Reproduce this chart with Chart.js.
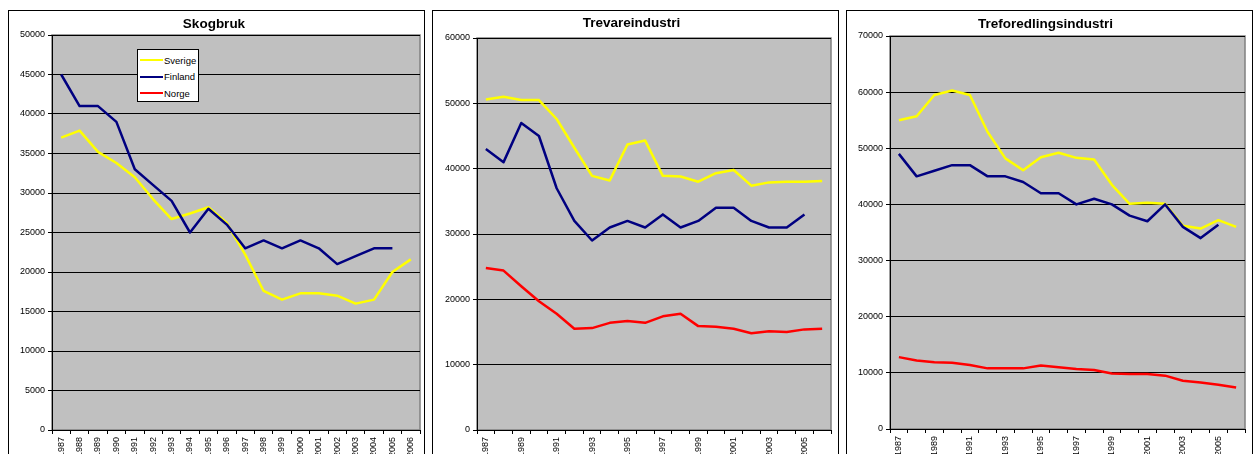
<!DOCTYPE html>
<html>
<head>
<meta charset="utf-8">
<script src="https://cdn.jsdelivr.net/npm/chart.js@4.4.1/dist/chart.umd.min.js"></script>
<style>
  html, body { margin: 0; padding: 0; background: #fff; overflow: hidden; width: 1253px; height: 454px; }
  canvas { position: absolute; }
  .frame { position: absolute; border: 1.5px solid #000; box-sizing: border-box; pointer-events: none; }
  .legend { position: absolute; background: #fff; border: 1px solid #000; box-sizing: border-box;
            font-family: 'Liberation Sans', Arial, sans-serif; font-size: 9.5px; color: #000; padding-top: 2px; }
  .legend .row { height: 16.5px; display: flex; align-items: center; }
  .legend .swatch { width: 23px; margin-left: 2px; margin-right: 1px; }
</style>
</head>
<body>

<canvas id="skogbruk" width="417" height="470" style="left:8px; top:10px;"></canvas>
<canvas id="trevare" width="406" height="470" style="left:432px; top:10px;"></canvas>
<canvas id="treforedling" width="407" height="470" style="left:846px; top:10px;"></canvas>

<div class="frame" style="left:8px; top:10px; width:417px; height:470px;"></div>
<div class="frame" style="left:432px; top:10px; width:407px; height:470px;"></div>
<div class="frame" style="left:846px; top:10px; width:407px; height:470px;"></div>

<div class="legend" id="legend" style="left:137px; top:49px; width:62px; height:53px;"></div>

<script>
// Years on the x axis
const years = ['1987', '1988', '1989', '1990', '1991', '1992', '1993', '1994', '1995', '1996',
               '1997', '1998', '1999', '2000', '2001', '2002', '2003', '2004', '2005', '2006'];

// Skogbruk
const skogSverige = [37000, 37900, 35200, 33800, 32000, 29200, 26700, 27400, 28200, 26200,
                     22200, 17600, 16500, 17300, 17300, 17000, 16000, 16500, 20000, 21600];
const skogFinland = [45000, 41000, 41000, 39000, 33000, 31000, 29000, 25000, 28000, 26000,
                     23000, 24000, 23000, 24000, 23000, 21000, 22000, 23000, 23000, null];
const skogNorge = [];

// Trevareindustri
const trevSverige = [50600, 51000, 50500, 50500, 47600, 43200, 38900, 38200, 43700, 44300,
                     38900, 38800, 38000, 39300, 39800, 37400, 37900, 38000, 38000, 38100];
const trevFinland = [43000, 41000, 47000, 45000, 37000, 32000, 29000, 31000, 32000, 31000,
                     33000, 31000, 32000, 34000, 34000, 32000, 31000, 31000, 33000, null];
const trevNorge = [24800, 24400, 22000, 19700, 17800, 15500, 15600, 16400, 16700, 16400,
                   17400, 17800, 15900, 15800, 15500, 14800, 15100, 15000, 15400, 15500];

// Treforedlingsindustri
const tforSverige = [55000, 55700, 59500, 60300, 59500, 52900, 48200, 46100, 48400, 49200,
                     48300, 48000, 43500, 40100, 40300, 40100, 36200, 35700, 37200, 36000];
const tforFinland = [49000, 45000, 46000, 47000, 47000, 45000, 45000, 44000, 42000, 42000,
                     40000, 41000, 40000, 38000, 37000, 40000, 36000, 34000, 36400, null];
const tforNorge = [12800, 12200, 11900, 11800, 11400, 10800, 10800, 10800, 11300, 11000,
                   10700, 10500, 9900, 9800, 9800, 9500, 8600, 8300, 7900, 7400];

const COLORS = { Sverige: '#FFFF00', Finland: '#000080', Norge: '#FF0000' };

Chart.defaults.font.family = "'Liberation Sans', Arial, sans-serif";
Chart.defaults.font.size = 9;
Chart.defaults.color = '#000';

// Gray plot area like the old spreadsheet charts
const plotBackground = {
    id: 'plotBackground',
    beforeDraw(chart) {
        const { ctx, chartArea: a } = chart;
        ctx.save();
        ctx.fillStyle = '#C0C0C0';
        ctx.fillRect(a.left, a.top, a.right - a.left, a.bottom - a.top);
        ctx.strokeStyle = '#808080';
        ctx.lineWidth = 1.5;
        ctx.strokeRect(a.left, a.top, a.right - a.left, a.bottom - a.top);
        ctx.restore();
    }
};

function makeDatasets(sverige, finland, norge, norgeWidth) {
    return [
        { label: 'Sverige', data: sverige, borderColor: COLORS.Sverige, borderWidth: 2.5, order: 3 },
        { label: 'Finland', data: finland, borderColor: COLORS.Finland, borderWidth: 2.5, order: 2 },
        { label: 'Norge', data: norge, borderColor: COLORS.Norge, borderWidth: norgeWidth || 2.5, order: 1 }
    ];
}

function buildChart(id, title, datasets, cfg) {
    const canvas = document.getElementById(id);
    return new Chart(canvas, {
        type: 'line',
        data: { labels: years, datasets: datasets },
        options: {
            responsive: false,
            animation: false,
            events: [],
            layout: { padding: { left: 0, right: cfg.padRight, top: 0, bottom: 0 } },
            elements: {
                point: { radius: 0 },
                line: { tension: 0, borderJoinStyle: 'round' }
            },
            plugins: {
                legend: { display: false },
                tooltip: { enabled: false },
                title: {
                    display: true,
                    text: title,
                    color: '#000',
                    font: { size: 13.5, weight: 'bold' },
                    padding: { top: cfg.titleTop, bottom: cfg.top - cfg.titleTop - 16.2 }
                }
            },
            scales: {
                x: {
                    offset: true,
                    grid: { offset: true, drawOnChartArea: false, drawTicks: true, tickLength: 4, color: '#000' },
                    border: { color: '#000', width: 1 },
                    ticks: {
                        autoSkip: false,
                        minRotation: 90,
                        maxRotation: 90,
                        padding: 3,
                        callback: (v, i) => (i % cfg.every === 0 ? years[i] : '')
                    },
                    afterFit: (scale) => { scale.height = canvas.height - cfg.bottom; }
                },
                y: {
                    min: 0,
                    max: cfg.max,
                    grid: { color: '#000', lineWidth: 1, drawTicks: true, tickLength: 4 },
                    border: { color: '#000', width: 1 },
                    ticks: { stepSize: cfg.step, padding: 3, callback: (v) => String(v) },
                    afterFit: (scale) => { scale.width = cfg.left; }
                }
            }
        },
        plugins: [plotBackground]
    });
}

const skogChart = buildChart('skogbruk', 'Skogbruk',
    makeDatasets(skogSverige, skogFinland, skogNorge, 2),
    { left: 44, padRight: 5, top: 25, bottom: 420, titleTop: 6, max: 50000, step: 5000, every: 1 });

buildChart('trevare', 'Trevareindustri',
    makeDatasets(trevSverige, trevFinland, trevNorge),
    { left: 45, padRight: 7, top: 28, bottom: 420, titleTop: 5, max: 60000, step: 10000, every: 2 });

buildChart('treforedling', 'Treforedlingsindustri',
    makeDatasets(tforSverige, tforFinland, tforNorge),
    { left: 44, padRight: 8, top: 26, bottom: 419, titleTop: 6, max: 70000, step: 10000, every: 2 });

// Legend box inside the first chart
const legendBox = document.getElementById('legend');
skogChart.data.datasets.forEach(ds => {
    const row = document.createElement('div');
    row.className = 'row';
    row.innerHTML = `<span class="swatch" style="border-top:${ds.borderWidth}px solid ${ds.borderColor}"></span>${ds.label}`;
    legendBox.appendChild(row);
});
</script>
</body>
</html>
